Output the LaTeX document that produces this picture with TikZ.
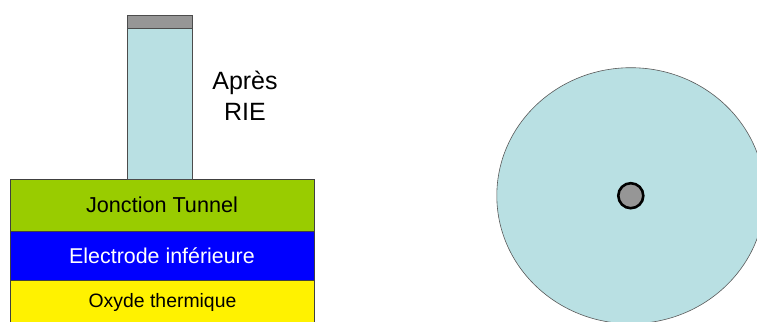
\documentclass[tikz,border=0pt]{standalone}
\usepackage{fontspec}
\setmainfont{Liberation Sans}
\usepackage{tikz}
\usetikzlibrary{shapes.geometric}
\definecolor{pilierbleu}{RGB}{185, 224, 227}
\definecolor{capgris}{RGB}{150, 150, 150}
\definecolor{jonctionvert}{RGB}{153, 204, 0}

\begin{document}
\begin{tikzpicture}[x=1pt, y=-1pt,
  couche/.style={draw=black!75, line width=0.8pt, inner sep=0pt, minimum width=304pt},
  bloc/.style={draw=black!70, line width=0.8pt, inner sep=0pt}]
  \useasboundingbox (0,0) rectangle (757,321);
  % empilement
  \node[couche, fill=jonctionvert, minimum height=51.5pt, font=\fontsize{21.6}{25}\selectfont] (J) at (162,205.25) {Jonction Tunnel};
  \node[couche, fill=blue, text=white, minimum height=49pt, font=\fontsize{21.4}{25}\selectfont] (E) at (162,255.5) {Electrode inférieure};
  \node[couche, fill=yellow, minimum height=44pt] (O) at (162,302) {};
  \node[font=\fontsize{19.4}{23}\selectfont] (Ot) at (162.5,302) {Oxyde thermique};
  % pilier
  \node[bloc, fill=pilierbleu, minimum width=65pt, minimum height=151pt] (P) at (159.5,103.5) {};
  \node[bloc, fill=capgris, minimum width=65pt, minimum height=13pt] (C) at (159.5,21.5) {};
  \node[align=center, font=\fontsize{25}{31}\selectfont] (T) at (245,96) {Après\\RIE};
  % vue de dessus
  \node[ellipse, draw=black!65, line width=0.6pt, fill=pilierbleu, minimum width=268pt, minimum height=256pt] (D) at (630.8,195.7) {};
  \node[circle, draw=black, line width=2.6pt, fill=capgris, minimum size=25pt, inner sep=0pt] (c) at (D.center) {};
\end{tikzpicture}
\end{document}
